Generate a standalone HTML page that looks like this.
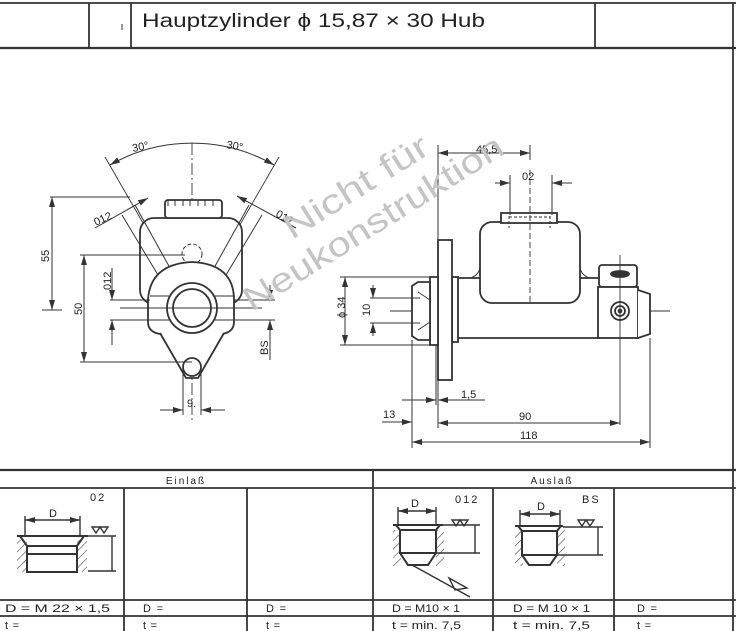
<!DOCTYPE html>
<html><head><meta charset="utf-8"><style>
html,body{margin:0;padding:0;background:#fff;}
svg{display:block;}
text{font-family:"Liberation Sans",sans-serif;fill:#222;}
</style></head><body>
<svg width="736" height="631" viewBox="0 0 736 631" xmlns="http://www.w3.org/2000/svg">
<defs>
<marker id="a" viewBox="0 0 10 6" refX="10" refY="3" markerWidth="10" markerHeight="6" orient="auto-start-reverse" markerUnits="userSpaceOnUse"><path d="M0,0L10,3L0,6z" fill="#333"/></marker>
<pattern id="h" width="6" height="6" patternUnits="userSpaceOnUse" patternTransform="rotate(45)"><line x1="0" y1="0" x2="0" y2="6" stroke="#444" stroke-width="1.2"/></pattern>
</defs>
<g fill="none" stroke="#333" stroke-width="1.8">
<line x1="0" y1="3" x2="736" y2="3"/>
<line x1="0" y1="48" x2="736" y2="48" stroke-width="2.2"/>
<line x1="89" y1="3" x2="89" y2="48"/>
<line x1="131" y1="3" x2="131" y2="48"/>
<line x1="595" y1="3" x2="595" y2="48"/>
<line x1="733" y1="3" x2="733" y2="631"/>
<line x1="122" y1="24" x2="122" y2="30" stroke-width="1"/>
<line x1="0" y1="470" x2="736" y2="470" stroke-width="2.2"/>
<line x1="0" y1="488" x2="736" y2="488"/>
<line x1="0" y1="600" x2="736" y2="600"/>
<line x1="0" y1="616" x2="736" y2="616"/>
<line x1="373" y1="470" x2="373" y2="631"/>
<line x1="124" y1="488" x2="124" y2="631"/>
<line x1="247" y1="488" x2="247" y2="631"/>
<line x1="493" y1="488" x2="493" y2="631"/>
<line x1="614" y1="488" x2="614" y2="631"/>
</g>
<text x="142" y="27" font-size="19" fill="#333" textLength="343" lengthAdjust="spacingAndGlyphs">Hauptzylinder  ϕ 15,87 × 30  Hub</text>
<g font-size="10" text-anchor="middle" letter-spacing="2">
<text x="186" y="484">Einlaß</text><text x="552" y="484">Auslaß</text>
</g>
<g font-size="11">
<text x="5" y="612" textLength="105" lengthAdjust="spacingAndGlyphs">D = M 22 × 1,5</text><text x="143" y="612" textLength="20">D =</text><text x="266" y="612" textLength="20">D =</text>
<text x="392" y="612" textLength="68" lengthAdjust="spacingAndGlyphs">D = M10 × 1</text><text x="513" y="612" textLength="77" lengthAdjust="spacingAndGlyphs">D =  M 10 × 1</text><text x="637" y="612" textLength="20">D =</text>
<text x="5" y="629" textLength="14">t =</text><text x="143" y="629" textLength="14">t =</text><text x="266" y="629" textLength="14">t =</text>
<text x="392" y="629" textLength="69" lengthAdjust="spacingAndGlyphs">t = min. 7,5</text><text x="513" y="629" textLength="77" lengthAdjust="spacingAndGlyphs">t =  min. 7,5</text><text x="637" y="629" textLength="14">t =</text>
<text x="90" y="501" letter-spacing="2">02</text><text x="455" y="503" letter-spacing="2">012</text><text x="582" y="503" letter-spacing="2">BS</text>
<text x="49" y="517">D</text><text x="411" y="507">D</text><text x="537" y="510">D</text>
</g>
<g fill="none" stroke="#333" stroke-width="1.4">
<rect x="17" y="540" width="10" height="32" fill="url(#h)" stroke="none"/>
<rect x="77" y="540" width="10" height="32" fill="url(#h)" stroke="none"/>
<path d="M17,536H88M20,536L27,546V572H77V546L84,536M27,546H77M27,554H77" stroke-width="2"/>
<line x1="25" y1="520" x2="80" y2="520" marker-start="url(#a)" marker-end="url(#a)"/>
<line x1="25" y1="516" x2="25" y2="535"/><line x1="80" y1="516" x2="80" y2="535"/>
<line x1="88" y1="536" x2="116" y2="536"/><line x1="88" y1="571" x2="116" y2="571"/>
<line x1="112" y1="536" x2="112" y2="571"/>
<path d="M92,527H108L104,533L100,527L96,533Z"/>
<rect x="393" y="530" width="8" height="36" fill="url(#h)" stroke="none"/>
<rect x="436" y="530" width="8" height="36" fill="url(#h)" stroke="none"/>
<path d="M393,525H443M396,525L400,530V553H436V530L440,525M400,553L408,565H428L436,553M401,530H435" stroke-width="2"/>
<line x1="398" y1="511" x2="436" y2="511" marker-start="url(#a)" marker-end="url(#a)"/>
<line x1="398" y1="507" x2="398" y2="524"/><line x1="436" y1="507" x2="436" y2="524"/>
<line x1="443" y1="525" x2="480" y2="525"/><line x1="436" y1="553" x2="480" y2="553"/>
<line x1="475" y1="525" x2="475" y2="553"/>
<path d="M452,520H468L464,526L460,520L456,526Z"/>
<line x1="412" y1="565" x2="470" y2="597"/>
<path d="M449,578L467,588L455,590Z"/>
<rect x="515" y="530" width="8" height="36" fill="url(#h)" stroke="none"/>
<rect x="557" y="530" width="8" height="36" fill="url(#h)" stroke="none"/>
<path d="M515,526H563M518,526L522,531V555H557V531L561,526M522,555L529,565H550L557,555M522,531H557" stroke-width="2"/>
<line x1="520" y1="514" x2="560" y2="514" marker-start="url(#a)" marker-end="url(#a)"/>
<line x1="520" y1="510" x2="520" y2="525"/><line x1="560" y1="510" x2="560" y2="525"/>
<line x1="563" y1="527" x2="603" y2="527"/><line x1="557" y1="555" x2="603" y2="555"/>
<line x1="598" y1="527" x2="598" y2="555"/>
<path d="M578,520H594L590,526L586,520L582,526Z"/>
</g>

<g fill="none" stroke="#333" stroke-width="1.8">
<path d="M192,143V420" stroke-dasharray="12,3,2,3" stroke-width="0.9"/>
<path d="M110,165 A165,165 0 0 1 274,165" marker-start="url(#a)" marker-end="url(#a)" stroke-width="1"/>
<line x1="192" y1="308" x2="105" y2="157" stroke-width="0.9"/>
<line x1="192" y1="308" x2="279" y2="157" stroke-width="0.9"/>
<rect x="140" y="218" width="102" height="86" rx="14" fill="#fff"/>
<rect x="165" y="200" width="57" height="18" rx="3" fill="#fff"/>
<path d="M168,200V206M175,200V206M183,200V206M190,200V206M198,200V206M205,200V206M213,200V206" stroke-width="1"/>
<path d="M122,215L170,295M135,205L185,295M262,215L214,295M249,205L199,295" stroke-width="1"/>
<circle cx="192" cy="254" r="10" stroke-dasharray="4,2" stroke-width="1"/>
<path d="M148,300Q150,264 192,262Q234,264 234,300V322Q234,332 222,334H160Q148,332 148,322Z" fill="#fff"/>
<path d="M160,333L186,378H198L224,333" fill="#fff"/>
<circle cx="192" cy="367" r="9" fill="#fff"/>
<circle cx="192" cy="308" r="25" fill="#fff"/>
<circle cx="192" cy="308" r="19"/>
<line x1="120" y1="308" x2="262" y2="308" stroke-width="0.9"/>
<path d="M150,296H170M150,320H170M214,296H234M214,320H234" stroke-width="1"/>
<g stroke-width="1">
<line x1="50" y1="197" x2="130" y2="197"/><line x1="52" y1="197" x2="52" y2="310" marker-start="url(#a)" marker-end="url(#a)"/><line x1="42" y1="310" x2="62" y2="310"/>
<line x1="80" y1="255" x2="185" y2="255"/><line x1="80" y1="362" x2="192" y2="362"/>
<line x1="84" y1="255" x2="84" y2="362" marker-start="url(#a)" marker-end="url(#a)"/>
<line x1="110" y1="300" x2="150" y2="300"/><line x1="110" y1="320" x2="150" y2="320"/>
<line x1="112" y1="268" x2="112" y2="300" marker-end="url(#a)"/><line x1="112" y1="345" x2="112" y2="320" marker-end="url(#a)"/>
<line x1="234" y1="300" x2="275" y2="300"/><line x1="234" y1="320" x2="275" y2="320"/>
<line x1="270" y1="285" x2="270" y2="300" marker-end="url(#a)"/><line x1="270" y1="360" x2="270" y2="320" marker-end="url(#a)"/>
<line x1="183" y1="368" x2="183" y2="415"/><line x1="201" y1="368" x2="201" y2="415"/>
<line x1="160" y1="410" x2="183" y2="410" marker-end="url(#a)"/><line x1="225" y1="410" x2="201" y2="410" marker-end="url(#a)"/>
<line x1="95" y1="228" x2="148" y2="198" marker-end="url(#a)"/>
<line x1="296" y1="228" x2="237" y2="196" marker-end="url(#a)"/>
</g>
</g>
<g font-size="11">
<text x="133" y="152" transform="rotate(-12 133 152)">30°</text>
<text x="226" y="148" transform="rotate(10 226 148)">30°</text>
<text x="96" y="226" transform="rotate(-25 96 226)">012</text>
<text x="275" y="216" transform="rotate(30 275 216)">012</text>
<text x="49" y="262" transform="rotate(-90 49 262)">55</text>
<text x="82" y="315" transform="rotate(-90 82 315)">50</text>
<text x="111" y="290" transform="rotate(-90 111 290)">012</text>
<text x="268" y="355" transform="rotate(-90 268 355)">BS</text>
<text x="187" y="407">9.</text>
</g>

<g fill="none" stroke="#333" stroke-width="1.8">
<line x1="390" y1="311" x2="670" y2="311" stroke-width="0.9"/>
<path d="M452,278H600V338H452Z" fill="#fff"/>
<path d="M470,278Q478,276 480,268M590,278Q582,276 580,268" stroke-width="1"/>
<rect x="480" y="222" width="100" height="81" rx="12" fill="#fff"/>
<rect x="501" y="213" width="56" height="10" fill="#fff"/>
<path d="M509,216V228M550,216V228M509,217H550" stroke-width="1" stroke-dasharray="3,2"/>
<line x1="530" y1="170" x2="530" y2="303" stroke-dasharray="6,3" stroke-width="0.9"/>
<rect x="452" y="277" width="6" height="65" fill="#fff"/>
<rect x="438" y="240" width="14" height="140" fill="#fff"/>
<rect x="430" y="277" width="8" height="68" fill="#fff"/>
<path d="M412,286L418,282H430V340H418L412,336Z" fill="#fff"/>
<path d="M418,292L430,300M418,330L430,322" stroke-width="0.8"/>
<rect x="599" y="265" width="38" height="22" rx="3" fill="#fff"/>
<ellipse cx="620" cy="274" rx="9" ry="3" fill="#333"/>
<rect x="598" y="287" width="40" height="51" fill="#fff"/>
<path d="M638,290L650,294V334L638,338" fill="#fff"/>
<circle cx="620" cy="311" r="9"/><circle cx="620" cy="311" r="5"/><circle cx="620" cy="311" r="1.5"/>
<line x1="620" y1="255" x2="620" y2="425" stroke-width="0.9"/>
<g stroke-width="1">
<line x1="438" y1="145" x2="438" y2="240"/><line x1="530" y1="145" x2="530" y2="160"/>
<line x1="438" y1="153" x2="530" y2="153" marker-start="url(#a)" marker-end="url(#a)"/>
<line x1="510" y1="175" x2="510" y2="215"/><line x1="552" y1="175" x2="552" y2="215"/>
<line x1="495" y1="183" x2="510" y2="183" marker-end="url(#a)"/><line x1="572" y1="183" x2="552" y2="183" marker-end="url(#a)"/>
<line x1="340" y1="277" x2="430" y2="277"/><line x1="340" y1="345" x2="430" y2="345"/>
<line x1="345" y1="277" x2="345" y2="345" marker-start="url(#a)" marker-end="url(#a)"/>
<line x1="370" y1="298" x2="420" y2="298"/><line x1="370" y1="323" x2="420" y2="323"/>
<line x1="373" y1="285" x2="373" y2="298" marker-end="url(#a)"/><line x1="373" y1="336" x2="373" y2="323" marker-end="url(#a)"/>
<line x1="412" y1="340" x2="412" y2="448"/><line x1="436" y1="345" x2="436" y2="405"/><line x1="438" y1="380" x2="438" y2="428"/>
<line x1="650" y1="338" x2="650" y2="448"/>
<line x1="402" y1="400" x2="436" y2="400" marker-end="url(#a)"/><line x1="485" y1="400" x2="438" y2="400" marker-end="url(#a)"/>
<line x1="382" y1="422" x2="412" y2="422" marker-end="url(#a)"/>
<line x1="438" y1="423" x2="620" y2="423" marker-start="url(#a)" marker-end="url(#a)"/>
<line x1="412" y1="442" x2="650" y2="442" marker-start="url(#a)" marker-end="url(#a)"/>
</g>
</g>
<g font-size="11">
<text x="476" y="153">45,5</text><text x="522" y="180">02</text>
<text x="345" y="318" transform="rotate(-90 345 318)">ϕ 34</text>
<text x="370" y="316" transform="rotate(-90 370 316)">10</text>
<text x="461" y="398">1,5</text><text x="383" y="418">13</text>
<text x="519" y="420">90</text><text x="520" y="439">118</text>
</g>
<g font-size="34">
<text x="292" y="240" transform="rotate(-32 292 240)" style="fill:#c4c4c4" textLength="165" lengthAdjust="spacingAndGlyphs">Nicht für</text>
<text x="252" y="312" transform="rotate(-32 252 312)" style="fill:#c4c4c4" textLength="300" lengthAdjust="spacingAndGlyphs">Neukonstruktion</text>
</g>
</svg>
</body></html>
